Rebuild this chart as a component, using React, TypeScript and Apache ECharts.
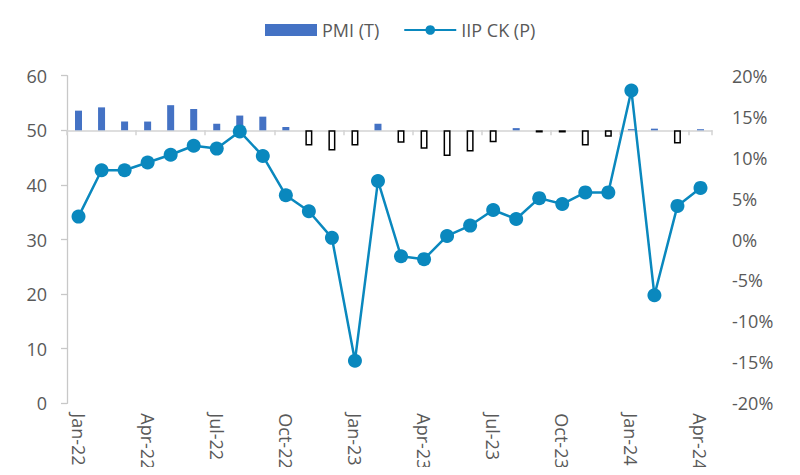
import React, { useEffect, useRef } from "react";
import * as echarts from "echarts";

const categories = [
  "Jan-22", "Feb-22", "Mar-22", "Apr-22", "May-22", "Jun-22", "Jul-22", "Aug-22", "Sep-22", "Oct-22", "Nov-22", "Dec-22",
  "Jan-23", "Feb-23", "Mar-23", "Apr-23", "May-23", "Jun-23", "Jul-23", "Aug-23", "Sep-23", "Oct-23", "Nov-23", "Dec-23",
  "Jan-24", "Feb-24", "Mar-24", "Apr-24",
];

const pmi = [
  53.6, 54.2, 51.6, 51.6, 54.6, 53.9, 51.2, 52.7, 52.5, 50.6, 47.2, 46.3,
  47.2, 51.2, 47.7, 46.6, 45.3, 46.1, 47.8, 50.4, 49.6, 49.6, 47.2, 48.8,
  50.2, 50.3, 47.6, 50.2,
];

const iip = [
  2.8, 8.45, 8.45, 9.4, 10.35, 11.45, 11.1, 13.2, 10.2, 5.4, 3.45, 0.2,
  -14.8, 7.15, -2.05, -2.4, 0.43, 1.7, 3.6, 2.5, 5.05, 4.33, 5.75, 5.75,
  18.2, -6.8, 4.1, 6.3,
];

const PMI_BASE = 50;
const leftTicks = { min: 0, max: 60, interval: 10 };
const rightTicks = { min: -20, max: 20, interval: 5 };

const FONT = "'Open Sans', 'Noto Sans', sans-serif";
const TEXT = "#595959";
const BLUE = "#4472C4";
const LINE = "#0A88BE";
const FS = 18;

export default function App() {
  const ref = useRef<HTMLDivElement>(null);
  useEffect(() => {
    if (!ref.current) return;
    const chart = echarts.init(ref.current, undefined, { renderer: "svg" });
    const barData = pmi.map((v) =>
      v >= PMI_BASE
        ? { value: +(v - PMI_BASE).toFixed(2), itemStyle: { color: BLUE } }
        : {
            value: +(v - PMI_BASE).toFixed(2),
            itemStyle: { color: "#FFFFFF", borderColor: "#000000", borderWidth: 1.5 },
          }
    );
    chart.setOption({
      animation: false,
      textStyle: { fontFamily: FONT },
      legend: {
        left: 260,
        top: 16,
        itemWidth: 52,
        itemHeight: 12,
        itemGap: 24,
        textStyle: { color: TEXT, fontSize: FS, fontFamily: FONT },
        data: [
          { name: "PMI (T)", icon: "rect" },
          { name: "IIP CK (P)" },
        ],
      },
      grid: { left: 67, right: 88, top: 75.7, bottom: 71.7, containLabel: false },
      xAxis: [
        {
          type: "category",
          data: categories,
          position: "bottom",
          boundaryGap: true,
          axisLine: { show: false, onZero: false },
          axisTick: { show: false },
          axisLabel: {
            interval: 2,
            rotate: -90,
            margin: 10,
            color: TEXT,
            fontSize: FS,
            fontFamily: FONT,
          },
          splitLine: { show: false },
        },
        {
          type: "category",
          data: categories,
          position: "bottom",
          boundaryGap: true,
          axisLine: { show: true, onZero: true, onZeroAxisIndex: 0, lineStyle: { color: "#D3D3D3", width: 1.5 } },
          axisTick: { show: true, interval: 2, length: 5, lineStyle: { color: "#D3D3D3", width: 1.5 } },
          axisLabel: { show: false },
          splitLine: { show: false },
        },
      ],
      yAxis: [
        {
          type: "value",
          position: "left",
          min: leftTicks.min - PMI_BASE,
          max: leftTicks.max - PMI_BASE,
          interval: leftTicks.interval,
          axisLine: { show: true, lineStyle: { color: "#C8C8C8", width: 1.3 } },
          axisTick: { show: true, length: 6, lineStyle: { color: "#C8C8C8", width: 1.3 } },
          axisLabel: {
            margin: 20,
            color: TEXT,
            fontSize: FS,
            fontFamily: FONT,
            formatter: (v: number) => String(Math.round(v + PMI_BASE)),
          },
          splitLine: { show: false },
        },
        {
          type: "value",
          position: "right",
          min: rightTicks.min,
          max: rightTicks.max,
          interval: rightTicks.interval,
          axisLine: { show: false },
          axisTick: { show: false },
          axisLabel: {
            margin: 20,
            color: TEXT,
            fontSize: FS,
            fontFamily: FONT,
            formatter: (v: number) => `${v}%`,
          },
          splitLine: { show: false },
        },
      ],
      series: [
        {
          name: "PMI (T)",
          type: "bar",
          xAxisIndex: 0,
          yAxisIndex: 0,
          barWidth: 7,
          itemStyle: { color: BLUE },
          data: barData,
        },
        {
          name: "IIP CK (P)",
          type: "line",
          xAxisIndex: 0,
          yAxisIndex: 1,
          symbol: "circle",
          symbolSize: 14,
          lineStyle: { color: LINE, width: 2.5 },
          itemStyle: { color: LINE },
          data: iip,
          z: 5,
        },
      ],
    });
    return () => chart.dispose();
  }, []);
  return <div ref={ref} style={{ width: 800, height: 475, margin: -8 }} />;
}
